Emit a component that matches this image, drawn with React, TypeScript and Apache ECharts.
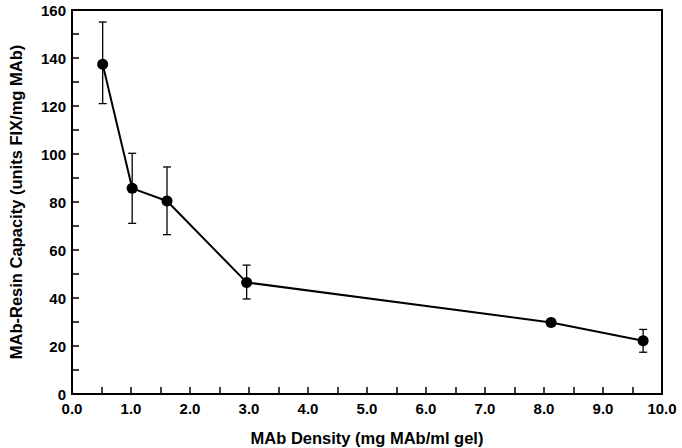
import React, { useEffect, useRef } from "react";
import * as echarts from "echarts";

const density = [0.52, 1.02, 1.61, 2.96, 8.12, 9.68];
const capacity = [137.4, 85.7, 80.4, 46.5, 29.8, 22.2];
const errLow = [121, 71.1, 66.4, 39.6, 28.4, 17.4];
const errHigh = [155, 100.3, 94.6, 53.7, 31.2, 26.9];
const xTitle = "MAb Density (mg MAb/ml gel)";
const yTitle = "MAb-Resin Capacity (units FIX/mg MAb)";

export default function App() {
  const ref = useRef<HTMLDivElement>(null);
  useEffect(() => {
    const chart = echarts.init(ref.current!, null, { renderer: "svg" });
    const font = "'Liberation Sans', Arial, sans-serif";
    chart.setOption({
      animation: false,
      backgroundColor: "#fff",
      grid: {
        left: 72,
        right: 20,
        top: 10,
        bottom: 54,
        containLabel: false,
        outerBoundsMode: "none",
        show: true,
        borderColor: "#000",
        borderWidth: 2,
        backgroundColor: "transparent",
      },
      xAxis: {
        type: "value",
        min: 0,
        max: 10,
        interval: 1,
        name: xTitle,
        nameLocation: "middle",
        nameGap: 35,
        nameTextStyle: { fontFamily: font, fontWeight: "bold", fontSize: 16.5, color: "#000" },
        axisLine: { show: true, lineStyle: { color: "#000", width: 2 } },
        axisTick: { show: true, inside: true, length: 7, lineStyle: { color: "#000", width: 1.5 } },
        minorTick: { show: true, splitNumber: 2, length: 7, lineStyle: { color: "#000", width: 1.5 } },
        splitLine: { show: false },
        axisLabel: {
          margin: 7,
          fontFamily: font,
          fontWeight: "bold",
          fontSize: 15,
          color: "#000",
          formatter: (v: number) => v.toFixed(1),
        },
      },
      yAxis: {
        type: "value",
        min: 0,
        max: 160,
        interval: 20,
        name: yTitle,
        nameLocation: "middle",
        nameGap: 48,
        nameTextStyle: { fontFamily: font, fontWeight: "bold", fontSize: 16.5, color: "#000" },
        axisLine: { show: true, lineStyle: { color: "#000", width: 2 } },
        axisTick: { show: true, inside: true, length: 7, lineStyle: { color: "#000", width: 1.5 } },
        minorTick: { show: true, splitNumber: 2, length: 7, lineStyle: { color: "#000", width: 1.5 } },
        splitLine: { show: false },
        axisLabel: {
          margin: 6,
          fontFamily: font,
          fontWeight: "bold",
          fontSize: 15,
          color: "#000",
        },
      },
      series: [
        {
          type: "custom",
          data: density.map((x, i) => [x, errLow[i], errHigh[i]]),
          renderItem: (params: any, api: any) => {
            const x = api.value(0);
            const lo = api.coord([x, api.value(1)]);
            const hi = api.coord([x, api.value(2)]);
            const cap = 4;
            const style = { stroke: "#000", lineWidth: 1.3 };
            return {
              type: "group",
              children: [
                { type: "line", shape: { x1: lo[0], y1: lo[1], x2: hi[0], y2: hi[1] }, style },
                { type: "line", shape: { x1: lo[0] - cap, y1: lo[1], x2: lo[0] + cap, y2: lo[1] }, style },
                { type: "line", shape: { x1: hi[0] - cap, y1: hi[1], x2: hi[0] + cap, y2: hi[1] }, style },
              ],
            };
          },
          z: 2,
        },
        {
          type: "line",
          data: density.map((x, i) => [x, capacity[i]]),
          symbol: "circle",
          symbolSize: 11,
          lineStyle: { color: "#000", width: 2 },
          itemStyle: { color: "#000" },
          z: 3,
        },
      ],
    });
    return () => chart.dispose();
  }, []);
  return <div ref={ref} style={{ width: 682, height: 448, position: "absolute", left: 0, top: 0 }} />;
}
